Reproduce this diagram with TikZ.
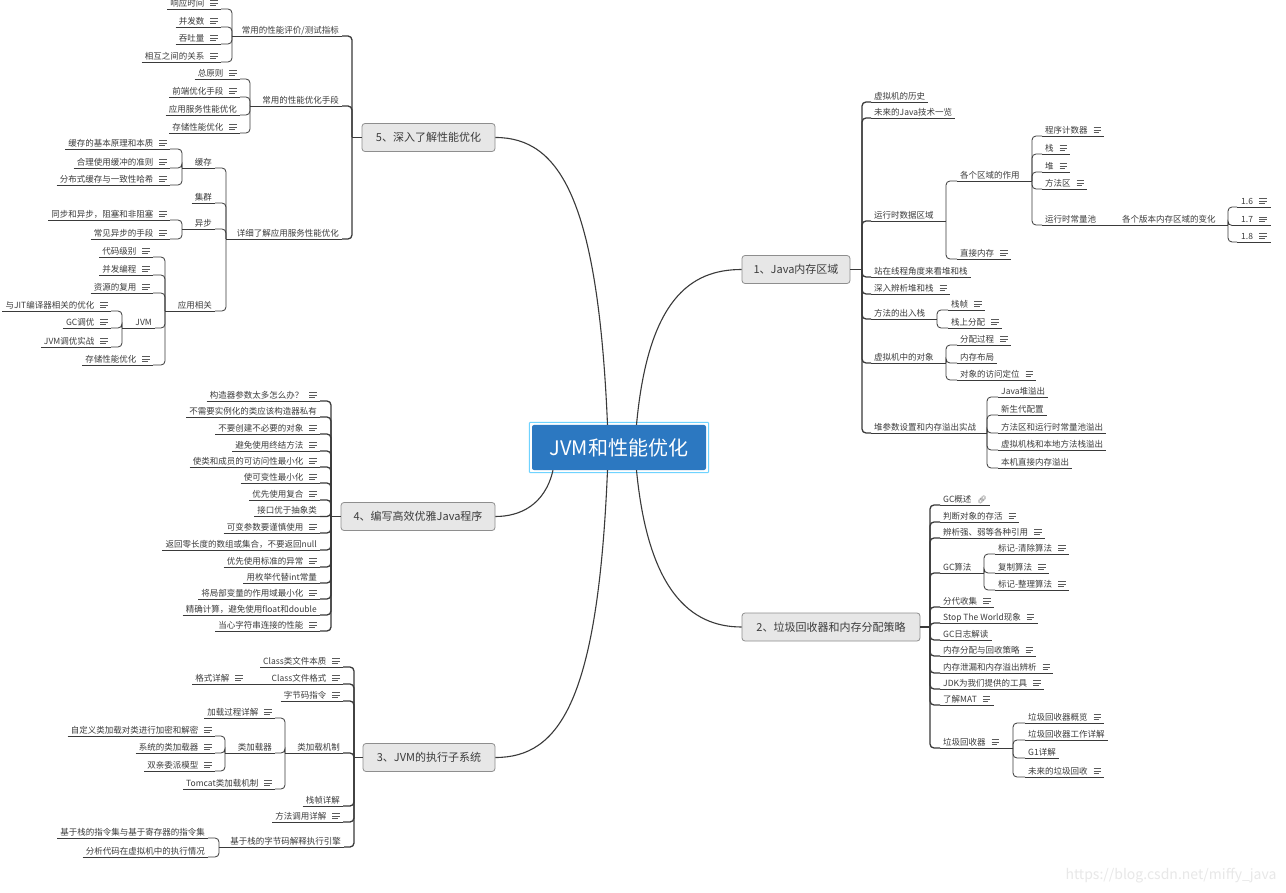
\documentclass[tikz,border=0pt]{standalone}
\usepackage{fontspec}
\setmainfont{Noto Sans CJK SC}
\newfontfamily\emojifont{Noto Emoji}
\usepackage{tikz}
\usetikzlibrary{fit}
\definecolor{rootblue}{HTML}{2C78C1}
\definecolor{selcyan}{HTML}{6FD3FF}
\definecolor{boxfill}{HTML}{E7E7E7}
\definecolor{boxline}{HTML}{8E8E8E}
\definecolor{linec}{HTML}{3A3A3A}
\definecolor{txt}{HTML}{3C3C3C}
\definecolor{memogray}{HTML}{5A5A5A}
\definecolor{wmgray}{HTML}{E8E8E8}
% little note icon behind a topic
\newcommand{\memo}{\hspace{6pt}\textcolor{memogray}{\raisebox{0.6pt}{\vbox{\hrule width 7.5pt height 0.7pt\vskip 1.6pt\hrule width 7.5pt height 0.7pt\vskip 1.6pt\hrule width 5.5pt height 0.7pt}}}}
\newcommand{\linkicon}{\hspace{6pt}{\emojifont\fontsize{7.5}{8}\selectfont\textcolor{memogray}{🔗}}}
% parent -> children, trunk at a fixed x
\newcommand{\rlink}[4][tie]{%
  \draw[#1] (#2) -- (#2 -| #3,0);
  \foreach \kid in {#4}{\draw[#1,rounded corners=4pt] (#2 -| #3,0) |- (\kid.south west);}}
\newcommand{\llink}[4][tie]{%
  \draw[#1] (#2) -- (#2 -| #3,0);
  \foreach \kid in {#4}{\draw[#1,rounded corners=4pt] (#2 -| #3,0) |- (\kid.south east);}}

\begin{document}
\begin{tikzpicture}[
  x=1pt,y=-1pt,
  tie/.style={draw=linec,line width=0.8pt},
  bigtie/.style={draw=linec,line width=1.3pt},
  curve/.style={draw=linec,line width=1.1pt},
  leaf/.style={font=\fontsize{8.5}{10}\selectfont,text=txt,inner xsep=3pt,inner ysep=1pt,
               text height=7pt,text depth=1.5pt,
               append after command={(\tikzlastnode.south west) edge[tie] (\tikzlastnode.south east)}},
  rleaf/.style={leaf,anchor=south west},
  lleaf/.style={leaf,anchor=south east},
  branch/.style={draw=boxline,line width=0.8pt,fill=boxfill,rounded corners=3pt,
                 text=txt,font=\fontsize{11}{13}\selectfont,minimum height=28pt},
  rootbox/.style={fill=rootblue,rounded corners=2pt,text=white,
                  font=\fontsize{20}{22}\selectfont,minimum width=174pt,minimum height=45pt}
]
\useasboundingbox[fill=white] (0,0) rectangle (1286,893);

% centre
\node[rootbox] (root) at (619,447.5) {JVM和性能优化};
\node[fit=(root),inner sep=2.5pt,draw=selcyan,line width=1pt,rounded corners=1pt] (rootsel) {};

% main topics
\node[branch,minimum width=108pt] (b1) at (796,269.5) {1、Java内存区域};
\node[branch,minimum width=178pt] (b2) at (831,627) {2、垃圾回收器和内存分配策略};
\node[branch,minimum width=132pt] (b3) at (429,757.5) {3、JVM的执行子系统};
\node[branch,minimum width=154pt] (b4) at (418,516.5) {4、编写高效优雅Java程序};
\node[branch,minimum width=133pt] (b5) at (428.5,137.5) {5、深入了解性能优化};

\draw[curve] ([xshift=17.5pt]root.north) .. controls (648,300) and (690,269.5) .. (b1.west);
\draw[curve] ([xshift=17.5pt]root.south) .. controls (648,590) and (690,627) .. (b2.west);
\draw[curve] ([xshift=-11.5pt]root.south) .. controls (598,700) and (560,757.5) .. (b3.east);
\draw[curve] ([xshift=-66pt]root.south) .. controls (545,505) and (520,516.5) .. (b4.east);
\draw[curve] ([xshift=-11.5pt]root.north) .. controls (598,200) and (560,137.5) .. (b5.east);

% 1
\node[rleaf] (h1) at (871,102) {虚拟机的历史};
\node[rleaf] (h2) at (871,118) {未来的Java技术一览};
\node[rleaf] (rt) at (871,221) {运行时数据区域};
\node[rleaf] (th) at (871,277) {站在线程角度来看堆和栈};
\node[rleaf] (hs) at (871,294) {深入辨析堆和栈\memo};
\node[rleaf] (ms) at (871,319) {方法的出入栈};
\node[rleaf] (ob) at (871,363) {虚拟机中的对象};
\node[rleaf] (ho) at (871,433) {堆参数设置和内存溢出实战};
\rlink[bigtie]{b1.east}{862}{h1,h2,rt,th,hs,ms,ob,ho}

\node[rleaf] (ar) at (957,181) {各个区域的作用};
\node[rleaf] (dm) at (957,259) {直接内存\memo};
\rlink{rt.south east}{946}{ar,dm}
\node[rleaf] (pc) at (1042,136) {程序计数器\memo};
\node[rleaf] (st) at (1042,154) {栈\memo};
\node[rleaf] (hp) at (1042,172) {堆\memo};
\node[rleaf] (ma) at (1042,189) {方法区\memo};
\node[rleaf] (pool) at (1042,225) {运行时常量池};
\rlink{ar.south east}{1032}{pc,st,hp,ma,pool}
\node[rleaf] (ver) at (1119,225) {各个版本内存区域的变化};
\draw[tie] (pool.south east) -- (ver.south west);
\node[rleaf,inner xsep=4pt] (v6) at (1237,207) {1.6\memo};
\node[rleaf,inner xsep=4pt] (v7) at (1237,225.5) {1.7\memo};
\node[rleaf,inner xsep=4pt] (v8) at (1237,242) {1.8\memo};
\rlink{ver.south east}{1228}{v6,v7,v8}

\node[rleaf] (sf) at (948,310) {栈帧\memo};
\node[rleaf] (sa) at (948,328) {栈上分配\memo};
\rlink{ms.south east}{937}{sf,sa}
\node[rleaf] (ap) at (957,345) {分配过程\memo};
\node[rleaf] (ml) at (957,363) {内存布局};
\node[rleaf] (oa) at (957,380) {对象的访问定位\memo};
\rlink{ob.south east}{946}{ap,ml,oa}
\node[rleaf] (oo1) at (998,397) {Java堆溢出};
\node[rleaf] (oo2) at (998,415) {新生代配置};
\node[rleaf] (oo3) at (998,433) {方法区和运行时常量池溢出};
\node[rleaf] (oo4) at (998,450) {虚拟机栈和本地方法栈溢出};
\node[rleaf] (oo5) at (998,468) {本机直接内存溢出};
\rlink{ho.south east}{987}{oo1,oo2,oo3,oo4,oo5}

% 2
\node[rleaf] (g1) at (940,505) {GC概述\linkicon};
\node[rleaf] (g2) at (940,522) {判断对象的存活\memo};
\node[rleaf] (g3) at (940,538) {辨析强、弱等各种引用\memo};
\node[rleaf] (ga) at (940,573) {GC算法};
\node[rleaf] (g5) at (940,607) {分代收集\memo};
\node[rleaf] (g6) at (940,623) {Stop The World现象\memo};
\node[rleaf] (g7) at (940,640) {GC日志解读};
\node[rleaf] (g8) at (940,656) {内存分配与回收策略\memo};
\node[rleaf] (g9) at (940,673) {内存泄漏和内存溢出辨析\memo};
\node[rleaf] (g10) at (940,689) {JDK为我们提供的工具\memo};
\node[rleaf] (g11) at (940,705) {了解MAT\memo};
\node[rleaf] (gc) at (940,748) {垃圾回收器\memo};
\rlink[bigtie]{b2.east}{930}{g1,g2,g3,ga,g5,g6,g7,g8,g9,g10,g11,gc}
\node[rleaf] (a1) at (995,554) {标记-清除算法\memo};
\node[rleaf] (a2) at (995,573) {复制算法\memo};
\node[rleaf] (a3) at (995,590) {标记-整理算法\memo};
\rlink{ga.south east}{984}{a1,a2,a3}
\node[rleaf] (c1) at (1025,723) {垃圾回收器概览\memo};
\node[rleaf] (c2) at (1025,740) {垃圾回收器工作详解};
\node[rleaf] (c3) at (1025,758) {G1详解};
\node[rleaf] (c4) at (1025,777) {未来的垃圾回收\memo};
\rlink{gc.south east}{1013}{c1,c2,c3,c4}

% 5
\node[lleaf] (pm) at (342,36) {常用的性能评价/测试指标};
\node[lleaf] (po) at (342,106) {常用的性能优化手段};
\node[lleaf] (pd) at (342,239) {详细了解应用服务性能优化};
\llink[bigtie]{b5.west}{352}{pm,po,pd}
\node[lleaf] (m1) at (221,9) {响应时间\memo};
\node[lleaf] (m2) at (221,27) {并发数\memo};
\node[lleaf] (m3) at (221,44) {吞吐量\memo};
\node[lleaf] (m4) at (221,62) {相互之间的关系\memo};
\llink{pm.south west}{232}{m1,m2,m3,m4}
\node[lleaf] (o1) at (240,79) {总原则\memo};
\node[lleaf] (o2) at (240,97) {前端优化手段\memo};
\node[lleaf] (o3) at (240,115) {应用服务性能优化};
\node[lleaf] (o4) at (240,133) {存储性能优化\memo};
\llink{po.south west}{250}{o1,o2,o3,o4}
\node[lleaf] (k1) at (215,168) {缓存};
\node[lleaf] (k2) at (215,203) {集群};
\node[lleaf] (k3) at (215,229) {异步};
\node[lleaf] (k4) at (215,311) {应用相关};
\llink{pd.south west}{226}{k1,k2,k3,k4}
\node[lleaf] (k11) at (170,149) {缓存的基本原理和本质\memo};
\node[lleaf] (k12) at (170,168) {合理使用缓冲的准则\memo};
\node[lleaf] (k13) at (170,185) {分布式缓存与一致性哈希\memo};
\llink{k1.south west}{182}{k11,k12,k13}
\node[lleaf] (k31) at (170,220) {同步和异步，阻塞和非阻塞\memo};
\node[lleaf] (k32) at (170,239) {常见异步的手段\memo};
\llink{k3.south west}{182}{k31,k32}
\node[lleaf] (k41) at (153,257) {代码级别\memo};
\node[lleaf] (k42) at (153,275) {并发编程\memo};
\node[lleaf] (k43) at (153,293) {资源的复用\memo};
\node[lleaf] (jvm) at (155,328) {JVM};
\node[lleaf] (k45) at (153,365) {存储性能优化\memo};
\llink{k4.south west}{165}{k41,k42,k43,jvm,k45}
\node[lleaf] (j1) at (111,311) {与JIT编译器相关的优化\memo};
\node[lleaf] (j2) at (111,328) {GC调优\memo};
\node[lleaf] (j3) at (111,347) {JVM调优实战\memo};
\llink{jvm.south west}{122}{j1,j2,j3}

% 4
\node[lleaf] (e1) at (320,401) {构造器参数太多怎么办？\memo};
\node[lleaf] (e2) at (320,417) {不需要实例化的类应该构造器私有};
\node[lleaf] (e3) at (320,434) {不要创建不必要的对象\memo};
\node[lleaf] (e4) at (320,451) {避免使用终结方法\memo};
\node[lleaf] (e5) at (320,467) {使类和成员的可访问性最小化\memo};
\node[lleaf] (e6) at (320,483) {使可变性最小化\memo};
\node[lleaf] (e7) at (320,500) {优先使用复合\memo};
\node[lleaf] (e8) at (320,516.5) {接口优于抽象类};
\node[lleaf] (e9) at (320,533) {可变参数要谨慎使用\memo};
\node[lleaf] (e10) at (320,550) {返回零长度的数组或集合，不要返回null};
\node[lleaf] (e11) at (320,567) {优先使用标准的异常\memo};
\node[lleaf] (e12) at (320,583) {用枚举代替int常量};
\node[lleaf] (e13) at (320,599) {将局部变量的作用域最小化\memo};
\node[lleaf] (e14) at (320,615) {精确计算，避免使用float和double};
\node[lleaf] (e15) at (320,631) {当心字符串连接的性能\memo};
\llink[bigtie]{b4.west}{331}{e1,e2,e3,e4,e5,e6,e7,e8,e9,e10,e11,e12,e13,e14,e15}

% 3
\node[lleaf] (x1) at (343,667) {Class类文件本质\memo};
\node[lleaf] (x2) at (343,684) {Class文件格式\memo};
\node[lleaf] (x3) at (343,701) {字节码指令\memo};
\node[lleaf] (cl) at (343,753) {类加载机制};
\node[lleaf] (x5) at (343,806) {栈帧详解};
\node[lleaf] (x6) at (343,822) {方法调用详解\memo};
\node[lleaf] (en) at (344,847) {基于栈的字节码解释执行引擎};
\llink[bigtie]{b3.west}{354}{x1,x2,x3,cl,x5,x6,en}
\node[lleaf] (fm) at (246,684) {格式详解\memo};
\draw[tie] (x2.south west) -- (fm.south east);
\node[lleaf] (l1) at (275,718) {加载过程详解\memo};
\node[lleaf] (ld) at (275,753) {类加载器};
\node[lleaf] (l3) at (275,789) {Tomcat类加载机制\memo};
\llink{cl.south west}{285}{l1,ld,l3}
\node[lleaf] (d1) at (215,736) {自定义类加载对类进行加密和解密\memo};
\node[lleaf] (d2) at (215,753) {系统的类加载器\memo};
\node[lleaf] (d3) at (215,771) {双亲委派模型\memo};
\llink{ld.south west}{225}{d1,d2,d3}
\node[lleaf] (n1) at (208,838) {基于栈的指令集与基于寄存器的指令集};
\node[lleaf] (n2) at (208,857) {分析代码在虚拟机中的执行情况};
\llink{en.south west}{219}{n1,n2}

\node[anchor=east,font=\fontsize{14}{16}\selectfont,text=wmgray] (wm) at (1280,876) {https://blog.csdn.net/miffy\_java};
\end{tikzpicture}
\end{document}
